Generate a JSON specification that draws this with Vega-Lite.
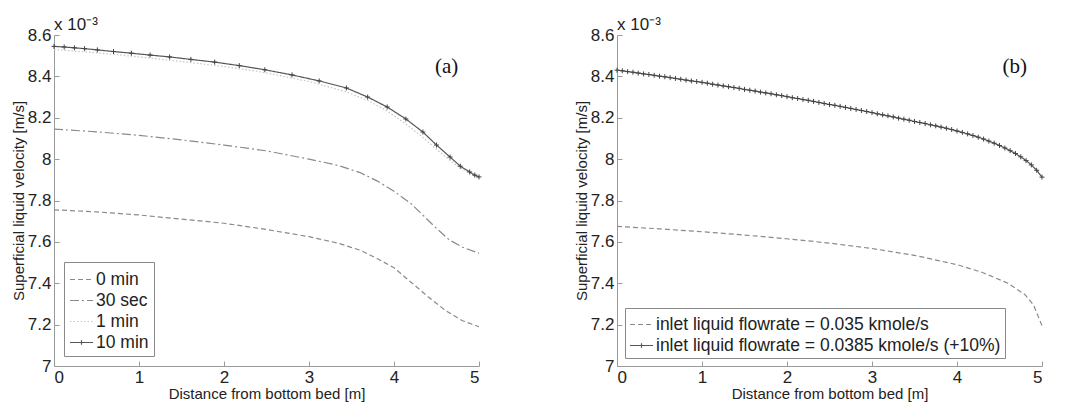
{
  "$schema": "https://vega.github.io/schema/vega-lite/v6.json",
  "background": "white",
  "padding": {"left": 11, "top": 16, "right": 5, "bottom": 5},
  "resolve": {"scale": {"color": "independent", "strokeDash": "independent"}, "legend": {"color": "independent", "strokeDash": "independent"}},
  "config": {
    "font": "Arial, Liberation Sans, sans-serif",
    "view": {"stroke": null},
    "axis": {"grid": false, "domainColor": "#9a9a9a", "tickColor": "#9a9a9a", "labelColor": "#222", "titleColor": "#222", "labelFont": "Arial, Liberation Sans, sans-serif", "titleFont": "Arial, Liberation Sans, sans-serif", "labelFontSize": 17, "titleFontSize": 15, "titleFontWeight": "normal", "tickSize": -5, "labelPadding": 8, "titlePadding": 1},
    "legend": {"labelFont": "Arial, Liberation Sans, sans-serif"},
    "title": {"anchor": "start", "frame": "group", "fontSize": 17, "fontWeight": "normal", "color": "#222", "offset": -8, "font": "Arial, Liberation Sans, sans-serif"},
    "concat": {"spacing": 90}
  },
  "datasets": {
    "d": [
      {"p":"a","s":"0 min","x":0,"v":7.755},{"p":"a","s":"0 min","x":0.5,"v":7.745},{"p":"a","s":"0 min","x":1,"v":7.73},{"p":"a","s":"0 min","x":1.5,"v":7.71},{"p":"a","s":"0 min","x":2,"v":7.69},{"p":"a","s":"0 min","x":2.5,"v":7.66},{"p":"a","s":"0 min","x":3,"v":7.625},{"p":"a","s":"0 min","x":3.34,"v":7.594},{"p":"a","s":"0 min","x":3.6,"v":7.56},{"p":"a","s":"0 min","x":3.8,"v":7.52},{"p":"a","s":"0 min","x":4,"v":7.475},{"p":"a","s":"0 min","x":4.2,"v":7.405},{"p":"a","s":"0 min","x":4.4,"v":7.335},{"p":"a","s":"0 min","x":4.6,"v":7.27},{"p":"a","s":"0 min","x":4.8,"v":7.22},{"p":"a","s":"0 min","x":5,"v":7.19},
      {"p":"a","s":"30 sec","x":0,"v":8.145},{"p":"a","s":"30 sec","x":0.5,"v":8.132},{"p":"a","s":"30 sec","x":1,"v":8.115},{"p":"a","s":"30 sec","x":1.5,"v":8.093},{"p":"a","s":"30 sec","x":2,"v":8.068},{"p":"a","s":"30 sec","x":2.5,"v":8.04},{"p":"a","s":"30 sec","x":3,"v":8.0},{"p":"a","s":"30 sec","x":3.34,"v":7.97},{"p":"a","s":"30 sec","x":3.6,"v":7.935},{"p":"a","s":"30 sec","x":3.8,"v":7.895},{"p":"a","s":"30 sec","x":4,"v":7.845},{"p":"a","s":"30 sec","x":4.2,"v":7.785},{"p":"a","s":"30 sec","x":4.35,"v":7.725},{"p":"a","s":"30 sec","x":4.5,"v":7.665},{"p":"a","s":"30 sec","x":4.65,"v":7.61},{"p":"a","s":"30 sec","x":4.8,"v":7.575},{"p":"a","s":"30 sec","x":5,"v":7.545},
      {"p":"a","s":"1 min","x":0,"v":8.53},{"p":"a","s":"1 min","x":0.5,"v":8.514},{"p":"a","s":"1 min","x":1,"v":8.494},{"p":"a","s":"1 min","x":1.5,"v":8.472},{"p":"a","s":"1 min","x":2,"v":8.448},{"p":"a","s":"1 min","x":2.5,"v":8.417},{"p":"a","s":"1 min","x":3,"v":8.375},{"p":"a","s":"1 min","x":3.44,"v":8.325},{"p":"a","s":"1 min","x":3.7,"v":8.282},{"p":"a","s":"1 min","x":3.92,"v":8.232},{"p":"a","s":"1 min","x":4.14,"v":8.17},{"p":"a","s":"1 min","x":4.34,"v":8.105},{"p":"a","s":"1 min","x":4.5,"v":8.048},{"p":"a","s":"1 min","x":4.66,"v":7.993},{"p":"a","s":"1 min","x":4.78,"v":7.957},{"p":"a","s":"1 min","x":4.89,"v":7.932},{"p":"a","s":"1 min","x":5,"v":7.908},
      {"p":"a","s":"10 min","x":0,"v":8.545},{"p":"a","s":"10 min","x":0.12,"v":8.542},{"p":"a","s":"10 min","x":0.24,"v":8.538},{"p":"a","s":"10 min","x":0.36,"v":8.534},{"p":"a","s":"10 min","x":0.51,"v":8.528},{"p":"a","s":"10 min","x":0.7,"v":8.52},{"p":"a","s":"10 min","x":0.91,"v":8.512},{"p":"a","s":"10 min","x":1.13,"v":8.503},{"p":"a","s":"10 min","x":1.36,"v":8.494},{"p":"a","s":"10 min","x":1.61,"v":8.482},{"p":"a","s":"10 min","x":1.89,"v":8.469},{"p":"a","s":"10 min","x":2.18,"v":8.452},{"p":"a","s":"10 min","x":2.48,"v":8.432},{"p":"a","s":"10 min","x":2.8,"v":8.407},{"p":"a","s":"10 min","x":3.12,"v":8.378},{"p":"a","s":"10 min","x":3.44,"v":8.344},{"p":"a","s":"10 min","x":3.69,"v":8.3},{"p":"a","s":"10 min","x":3.92,"v":8.252},{"p":"a","s":"10 min","x":4.14,"v":8.194},{"p":"a","s":"10 min","x":4.34,"v":8.131},{"p":"a","s":"10 min","x":4.5,"v":8.068},{"p":"a","s":"10 min","x":4.66,"v":8.01},{"p":"a","s":"10 min","x":4.78,"v":7.966},{"p":"a","s":"10 min","x":4.89,"v":7.938},{"p":"a","s":"10 min","x":4.95,"v":7.923},{"p":"a","s":"10 min","x":5,"v":7.914},
      {"p":"b","s":"inlet liquid flowrate = 0.035 kmole/s","x":0,"v":7.675},{"p":"b","s":"inlet liquid flowrate = 0.035 kmole/s","x":0.5,"v":7.663},{"p":"b","s":"inlet liquid flowrate = 0.035 kmole/s","x":1,"v":7.649},{"p":"b","s":"inlet liquid flowrate = 0.035 kmole/s","x":1.5,"v":7.633},{"p":"b","s":"inlet liquid flowrate = 0.035 kmole/s","x":2,"v":7.615},{"p":"b","s":"inlet liquid flowrate = 0.035 kmole/s","x":2.5,"v":7.594},{"p":"b","s":"inlet liquid flowrate = 0.035 kmole/s","x":3,"v":7.568},{"p":"b","s":"inlet liquid flowrate = 0.035 kmole/s","x":3.5,"v":7.535},{"p":"b","s":"inlet liquid flowrate = 0.035 kmole/s","x":4,"v":7.49},{"p":"b","s":"inlet liquid flowrate = 0.035 kmole/s","x":4.3,"v":7.452},{"p":"b","s":"inlet liquid flowrate = 0.035 kmole/s","x":4.6,"v":7.4},{"p":"b","s":"inlet liquid flowrate = 0.035 kmole/s","x":4.8,"v":7.345},{"p":"b","s":"inlet liquid flowrate = 0.035 kmole/s","x":4.9,"v":7.295},{"p":"b","s":"inlet liquid flowrate = 0.035 kmole/s","x":5,"v":7.195},
      {"p":"b","s":"inlet liquid flowrate = 0.0385 kmole/s (+10%)","x":0,"v":8.43},{"p":"b","s":"inlet liquid flowrate = 0.0385 kmole/s (+10%)","x":0.0625,"v":8.427},{"p":"b","s":"inlet liquid flowrate = 0.0385 kmole/s (+10%)","x":0.125,"v":8.423},{"p":"b","s":"inlet liquid flowrate = 0.0385 kmole/s (+10%)","x":0.1875,"v":8.42},{"p":"b","s":"inlet liquid flowrate = 0.0385 kmole/s (+10%)","x":0.25,"v":8.416},{"p":"b","s":"inlet liquid flowrate = 0.0385 kmole/s (+10%)","x":0.3125,"v":8.412},{"p":"b","s":"inlet liquid flowrate = 0.0385 kmole/s (+10%)","x":0.375,"v":8.409},{"p":"b","s":"inlet liquid flowrate = 0.0385 kmole/s (+10%)","x":0.4375,"v":8.405},{"p":"b","s":"inlet liquid flowrate = 0.0385 kmole/s (+10%)","x":0.5,"v":8.401},{"p":"b","s":"inlet liquid flowrate = 0.0385 kmole/s (+10%)","x":0.5625,"v":8.398},{"p":"b","s":"inlet liquid flowrate = 0.0385 kmole/s (+10%)","x":0.625,"v":8.394},{"p":"b","s":"inlet liquid flowrate = 0.0385 kmole/s (+10%)","x":0.6875,"v":8.39},{"p":"b","s":"inlet liquid flowrate = 0.0385 kmole/s (+10%)","x":0.75,"v":8.386},{"p":"b","s":"inlet liquid flowrate = 0.0385 kmole/s (+10%)","x":0.8125,"v":8.382},{"p":"b","s":"inlet liquid flowrate = 0.0385 kmole/s (+10%)","x":0.875,"v":8.378},{"p":"b","s":"inlet liquid flowrate = 0.0385 kmole/s (+10%)","x":0.9375,"v":8.375},
      {"p":"b","s":"inlet liquid flowrate = 0.0385 kmole/s (+10%)","x":1,"v":8.371},{"p":"b","s":"inlet liquid flowrate = 0.0385 kmole/s (+10%)","x":1.0625,"v":8.367},{"p":"b","s":"inlet liquid flowrate = 0.0385 kmole/s (+10%)","x":1.125,"v":8.362},{"p":"b","s":"inlet liquid flowrate = 0.0385 kmole/s (+10%)","x":1.1875,"v":8.358},{"p":"b","s":"inlet liquid flowrate = 0.0385 kmole/s (+10%)","x":1.25,"v":8.354},{"p":"b","s":"inlet liquid flowrate = 0.0385 kmole/s (+10%)","x":1.3125,"v":8.35},{"p":"b","s":"inlet liquid flowrate = 0.0385 kmole/s (+10%)","x":1.375,"v":8.346},{"p":"b","s":"inlet liquid flowrate = 0.0385 kmole/s (+10%)","x":1.4375,"v":8.342},{"p":"b","s":"inlet liquid flowrate = 0.0385 kmole/s (+10%)","x":1.5,"v":8.337},{"p":"b","s":"inlet liquid flowrate = 0.0385 kmole/s (+10%)","x":1.5625,"v":8.333},{"p":"b","s":"inlet liquid flowrate = 0.0385 kmole/s (+10%)","x":1.625,"v":8.329},{"p":"b","s":"inlet liquid flowrate = 0.0385 kmole/s (+10%)","x":1.6875,"v":8.324},{"p":"b","s":"inlet liquid flowrate = 0.0385 kmole/s (+10%)","x":1.75,"v":8.32},{"p":"b","s":"inlet liquid flowrate = 0.0385 kmole/s (+10%)","x":1.8125,"v":8.316},{"p":"b","s":"inlet liquid flowrate = 0.0385 kmole/s (+10%)","x":1.875,"v":8.311},{"p":"b","s":"inlet liquid flowrate = 0.0385 kmole/s (+10%)","x":1.9375,"v":8.307},
      {"p":"b","s":"inlet liquid flowrate = 0.0385 kmole/s (+10%)","x":2,"v":8.302},{"p":"b","s":"inlet liquid flowrate = 0.0385 kmole/s (+10%)","x":2.0625,"v":8.297},{"p":"b","s":"inlet liquid flowrate = 0.0385 kmole/s (+10%)","x":2.125,"v":8.293},{"p":"b","s":"inlet liquid flowrate = 0.0385 kmole/s (+10%)","x":2.1875,"v":8.288},{"p":"b","s":"inlet liquid flowrate = 0.0385 kmole/s (+10%)","x":2.25,"v":8.284},{"p":"b","s":"inlet liquid flowrate = 0.0385 kmole/s (+10%)","x":2.3125,"v":8.279},{"p":"b","s":"inlet liquid flowrate = 0.0385 kmole/s (+10%)","x":2.375,"v":8.274},{"p":"b","s":"inlet liquid flowrate = 0.0385 kmole/s (+10%)","x":2.4375,"v":8.269},{"p":"b","s":"inlet liquid flowrate = 0.0385 kmole/s (+10%)","x":2.5,"v":8.264},{"p":"b","s":"inlet liquid flowrate = 0.0385 kmole/s (+10%)","x":2.5625,"v":8.26},{"p":"b","s":"inlet liquid flowrate = 0.0385 kmole/s (+10%)","x":2.625,"v":8.255},{"p":"b","s":"inlet liquid flowrate = 0.0385 kmole/s (+10%)","x":2.6875,"v":8.25},{"p":"b","s":"inlet liquid flowrate = 0.0385 kmole/s (+10%)","x":2.75,"v":8.245},{"p":"b","s":"inlet liquid flowrate = 0.0385 kmole/s (+10%)","x":2.8125,"v":8.24},{"p":"b","s":"inlet liquid flowrate = 0.0385 kmole/s (+10%)","x":2.875,"v":8.235},{"p":"b","s":"inlet liquid flowrate = 0.0385 kmole/s (+10%)","x":2.9375,"v":8.23},
      {"p":"b","s":"inlet liquid flowrate = 0.0385 kmole/s (+10%)","x":3,"v":8.225},{"p":"b","s":"inlet liquid flowrate = 0.0385 kmole/s (+10%)","x":3.0625,"v":8.219},{"p":"b","s":"inlet liquid flowrate = 0.0385 kmole/s (+10%)","x":3.125,"v":8.214},{"p":"b","s":"inlet liquid flowrate = 0.0385 kmole/s (+10%)","x":3.1875,"v":8.209},{"p":"b","s":"inlet liquid flowrate = 0.0385 kmole/s (+10%)","x":3.25,"v":8.204},{"p":"b","s":"inlet liquid flowrate = 0.0385 kmole/s (+10%)","x":3.3125,"v":8.198},{"p":"b","s":"inlet liquid flowrate = 0.0385 kmole/s (+10%)","x":3.375,"v":8.193},{"p":"b","s":"inlet liquid flowrate = 0.0385 kmole/s (+10%)","x":3.4375,"v":8.188},{"p":"b","s":"inlet liquid flowrate = 0.0385 kmole/s (+10%)","x":3.5,"v":8.182},{"p":"b","s":"inlet liquid flowrate = 0.0385 kmole/s (+10%)","x":3.5625,"v":8.177},{"p":"b","s":"inlet liquid flowrate = 0.0385 kmole/s (+10%)","x":3.625,"v":8.172},{"p":"b","s":"inlet liquid flowrate = 0.0385 kmole/s (+10%)","x":3.6875,"v":8.166},{"p":"b","s":"inlet liquid flowrate = 0.0385 kmole/s (+10%)","x":3.75,"v":8.161},{"p":"b","s":"inlet liquid flowrate = 0.0385 kmole/s (+10%)","x":3.8125,"v":8.155},{"p":"b","s":"inlet liquid flowrate = 0.0385 kmole/s (+10%)","x":3.875,"v":8.149},{"p":"b","s":"inlet liquid flowrate = 0.0385 kmole/s (+10%)","x":3.9375,"v":8.143},
      {"p":"b","s":"inlet liquid flowrate = 0.0385 kmole/s (+10%)","x":4,"v":8.136},{"p":"b","s":"inlet liquid flowrate = 0.0385 kmole/s (+10%)","x":4.0625,"v":8.129},{"p":"b","s":"inlet liquid flowrate = 0.0385 kmole/s (+10%)","x":4.125,"v":8.122},{"p":"b","s":"inlet liquid flowrate = 0.0385 kmole/s (+10%)","x":4.1875,"v":8.114},{"p":"b","s":"inlet liquid flowrate = 0.0385 kmole/s (+10%)","x":4.25,"v":8.106},{"p":"b","s":"inlet liquid flowrate = 0.0385 kmole/s (+10%)","x":4.3125,"v":8.097},{"p":"b","s":"inlet liquid flowrate = 0.0385 kmole/s (+10%)","x":4.375,"v":8.087},{"p":"b","s":"inlet liquid flowrate = 0.0385 kmole/s (+10%)","x":4.4375,"v":8.077},{"p":"b","s":"inlet liquid flowrate = 0.0385 kmole/s (+10%)","x":4.5,"v":8.066},{"p":"b","s":"inlet liquid flowrate = 0.0385 kmole/s (+10%)","x":4.5625,"v":8.054},{"p":"b","s":"inlet liquid flowrate = 0.0385 kmole/s (+10%)","x":4.625,"v":8.041},{"p":"b","s":"inlet liquid flowrate = 0.0385 kmole/s (+10%)","x":4.6875,"v":8.027},{"p":"b","s":"inlet liquid flowrate = 0.0385 kmole/s (+10%)","x":4.75,"v":8.011},{"p":"b","s":"inlet liquid flowrate = 0.0385 kmole/s (+10%)","x":4.8125,"v":7.993},{"p":"b","s":"inlet liquid flowrate = 0.0385 kmole/s (+10%)","x":4.875,"v":7.972},{"p":"b","s":"inlet liquid flowrate = 0.0385 kmole/s (+10%)","x":4.9375,"v":7.946},{"p":"b","s":"inlet liquid flowrate = 0.0385 kmole/s (+10%)","x":5,"v":7.913}
    ]
  },
  "hconcat": [
    {
      "width": 425,
      "height": 331,
      "title": {"text": "x 10⁻³"},
      "data": {"name": "d"},
      "transform": [{"filter": "datum.p === 'a'"}],
      "layer": [
        {
          "mark": {"type": "line", "strokeWidth": 1.2},
          "encoding": {
            "x": {"field": "x", "type": "quantitative", "scale": {"domain": [0, 5], "nice": false}, "axis": {"values": [0, 1, 2, 3, 4, 5], "format": "d", "title": "Distance from bottom bed [m]"}},
            "y": {"field": "v", "type": "quantitative", "scale": {"domain": [7, 8.6], "nice": false, "zero": false}, "axis": {"values": [7, 7.2, 7.4, 7.6, 7.8, 8, 8.2, 8.4, 8.6], "format": ".1~f", "title": "Superficial liquid velocity [m/s]"}},
            "color": {"field": "s", "type": "nominal", "scale": {"domain": ["0 min", "30 sec", "1 min", "10 min"], "range": ["#8a8a8a", "#8a8a8a", "#c6c6c6", "#555555"]},
              "legend": {"title": null, "orient": "bottom-left", "offset": 10, "strokeColor": "#8a8a8a", "fillColor": "white", "padding": 5, "labelFontSize": 17.5, "labelColor": "#222", "symbolSize": 529, "symbolStrokeWidth": 1.2, "rowPadding": 0, "labelOffset": 2, "labelLimit": 400, "symbolType": "stroke",
                "encode": {"symbols": {"update": {"shape": {"signal": "datum.value === '10 min' ? 'M-1,0H1M0,-0.2V0.2' : 'stroke'"}}}}}},
            "strokeDash": {"field": "s", "type": "nominal", "scale": {"domain": ["0 min", "30 sec", "1 min", "10 min"], "range": [[5, 3], [9, 3, 2, 3], [1.5, 2], [1, 0]]},
              "legend": {"title": null, "orient": "bottom-left", "offset": 10, "strokeColor": "#8a8a8a", "fillColor": "white", "padding": 5, "labelFontSize": 17.5, "labelColor": "#222", "symbolSize": 529, "symbolStrokeWidth": 1.2, "rowPadding": 0, "labelOffset": 2, "labelLimit": 400, "symbolType": "stroke",
                "encode": {"symbols": {"update": {"shape": {"signal": "datum.value === '10 min' ? 'M-1,0H1M0,-0.2V0.2' : 'stroke'"}}}}}}
          }
        },
        {
          "transform": [{"filter": "datum.s === '10 min'"}],
          "mark": {"type": "point", "shape": "M-1,0H1M0,-1V1", "filled": false, "size": 25, "strokeWidth": 1, "color": "#444444", "opacity": 1},
          "encoding": {
            "x": {"field": "x", "type": "quantitative"},
            "y": {"field": "v", "type": "quantitative"}
          }
        },
        {
          "data": {"values": [{"label": "(a)"}]},
          "mark": {"type": "text", "font": "Times New Roman, Liberation Serif, serif", "fontSize": 21, "color": "#111"},
          "encoding": {
            "x": {"datum": 4.62},
            "y": {"datum": 8.445},
            "text": {"field": "label"}
          }
        }
      ]
    },
    {
      "width": 425,
      "height": 331,
      "title": {"text": "x 10⁻³"},
      "data": {"name": "d"},
      "transform": [{"filter": "datum.p === 'b'"}],
      "layer": [
        {
          "mark": {"type": "line", "strokeWidth": 1.2},
          "encoding": {
            "x": {"field": "x", "type": "quantitative", "scale": {"domain": [0, 5], "nice": false}, "axis": {"values": [0, 1, 2, 3, 4, 5], "format": "d", "title": "Distance from bottom bed [m]"}},
            "y": {"field": "v", "type": "quantitative", "scale": {"domain": [7, 8.6], "nice": false, "zero": false}, "axis": {"values": [7, 7.2, 7.4, 7.6, 7.8, 8, 8.2, 8.4, 8.6], "format": ".1~f", "title": "Superficial liquid velocity [m/s]"}},
            "color": {"field": "s", "type": "nominal", "scale": {"domain": ["inlet liquid flowrate = 0.035 kmole/s", "inlet liquid flowrate = 0.0385 kmole/s (+10%)"], "range": ["#8a8a8a", "#555555"]},
              "legend": {"title": null, "orient": "bottom-left", "offset": 8, "strokeColor": "#8a8a8a", "fillColor": "white", "padding": 4, "labelFontSize": 17.5, "labelColor": "#222", "symbolSize": 529, "symbolStrokeWidth": 1.2, "rowPadding": 0, "labelOffset": 2, "labelLimit": 500, "symbolType": "stroke",
                "encode": {"symbols": {"update": {"shape": {"signal": "datum.value === 'inlet liquid flowrate = 0.0385 kmole/s (+10%)' ? 'M-1,0H1M0,-0.2V0.2' : 'stroke'"}}}}}},
            "strokeDash": {"field": "s", "type": "nominal", "scale": {"domain": ["inlet liquid flowrate = 0.035 kmole/s", "inlet liquid flowrate = 0.0385 kmole/s (+10%)"], "range": [[5, 3], [1, 0]]},
              "legend": {"title": null, "orient": "bottom-left", "offset": 8, "strokeColor": "#8a8a8a", "fillColor": "white", "padding": 4, "labelFontSize": 17.5, "labelColor": "#222", "symbolSize": 529, "symbolStrokeWidth": 1.2, "rowPadding": 0, "labelOffset": 2, "labelLimit": 500, "symbolType": "stroke",
                "encode": {"symbols": {"update": {"shape": {"signal": "datum.value === 'inlet liquid flowrate = 0.0385 kmole/s (+10%)' ? 'M-1,0H1M0,-0.2V0.2' : 'stroke'"}}}}}}
          }
        },
        {
          "transform": [{"filter": "datum.s === 'inlet liquid flowrate = 0.0385 kmole/s (+10%)'"}],
          "mark": {"type": "point", "shape": "M-1,0H1M0,-1V1", "filled": false, "size": 25, "strokeWidth": 1, "color": "#444444", "opacity": 1},
          "encoding": {
            "x": {"field": "x", "type": "quantitative"},
            "y": {"field": "v", "type": "quantitative"}
          }
        },
        {
          "data": {"values": [{"label": "(b)"}]},
          "mark": {"type": "text", "font": "Times New Roman, Liberation Serif, serif", "fontSize": 21, "color": "#111"},
          "encoding": {
            "x": {"datum": 4.68},
            "y": {"datum": 8.445},
            "text": {"field": "label"}
          }
        }
      ]
    }
  ]
}
